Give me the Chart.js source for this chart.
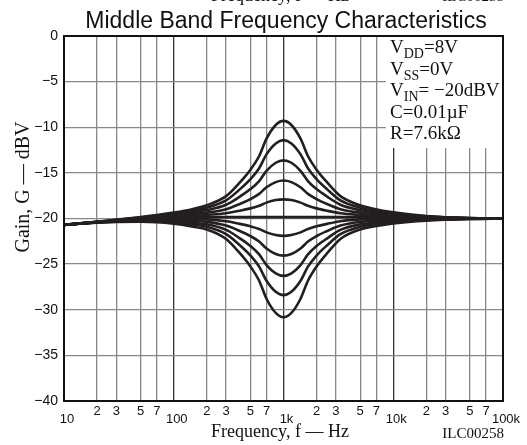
<!DOCTYPE html>
<html>
<head>
<meta charset="utf-8">
<script src="https://cdn.jsdelivr.net/npm/chart.js@4"></script>
<style>body{margin:0;background:#fff}</style>
</head>
<body>
<canvas id="chart" width="527" height="445"></canvas>
<script>
// frequencies (Hz) the curves were read at
const freqs = [10, 20, 50, 100, 150, 200, 300, 400, 500, 600, 700, 850, 1000, 1180, 1430, 1670, 2000, 2500, 3300, 5000, 6600, 10000, 20000, 50000, 100000];

// gain curves, dBV (boost settings, flat, cut settings)
const boost1 = [-20.7, -20.35, -19.85, -19.35, -18.95, -18.55, -17.55, -16.05, -14.65, -13.15, -11.25, -9.75, -9.3, -9.75, -11.25, -13.15, -14.65, -16.05, -17.55, -18.55, -18.93, -19.32, -19.72, -19.95, -20.0];
const boost2 = [-20.7, -20.36, -19.9, -19.47, -19.14, -18.81, -18.01, -16.81, -15.69, -14.49, -12.97, -11.77, -11.41, -11.77, -12.97, -14.49, -15.69, -16.81, -18.01, -18.81, -19.12, -19.44, -19.77, -19.96, -20.0];
const boost3 = [-20.7, -20.37, -19.95, -19.6, -19.34, -19.08, -18.49, -17.61, -16.78, -15.9, -14.78, -13.89, -13.63, -13.89, -14.78, -15.9, -16.78, -17.61, -18.49, -19.08, -19.32, -19.57, -19.82, -19.97, -20.0];
const boost4 = [-20.7, -20.38, -20.0, -19.72, -19.54, -19.36, -18.98, -18.41, -17.87, -17.3, -16.58, -16.01, -15.84, -16.01, -16.58, -17.3, -17.87, -18.41, -18.98, -19.36, -19.52, -19.69, -19.87, -19.98, -20.0];
const boost5 = [-20.7, -20.39, -20.05, -19.84, -19.72, -19.61, -19.42, -19.15, -18.89, -18.61, -18.26, -17.98, -17.9, -17.98, -18.26, -18.61, -18.89, -19.15, -19.42, -19.61, -19.7, -19.81, -19.92, -19.99, -20.0];
const flat   = [-20.7, -20.4, -20.1, -19.95, -19.9, -19.85, -19.85, -19.85, -19.85, -19.85, -19.85, -19.85, -19.85, -19.85, -19.85, -19.85, -19.85, -19.85, -19.85, -19.85, -19.88, -19.92, -19.97, -20.0, -20.0];
const cut1   = [-20.7, -20.41, -20.15, -20.07, -20.08, -20.1, -20.3, -20.59, -20.86, -21.15, -21.52, -21.81, -21.9, -21.81, -21.52, -21.15, -20.86, -20.59, -20.3, -20.1, -20.06, -20.04, -20.02, -20.01, -20.0];
const cut2   = [-20.7, -20.42, -20.2, -20.19, -20.28, -20.37, -20.77, -21.37, -21.93, -22.53, -23.29, -23.89, -24.07, -23.89, -23.29, -22.53, -21.93, -21.37, -20.77, -20.37, -20.26, -20.16, -20.07, -20.02, -20.0];
const cut3   = [-20.7, -20.43, -20.25, -20.32, -20.48, -20.64, -21.25, -22.17, -23.02, -23.94, -25.1, -26.01, -26.29, -26.01, -25.1, -23.94, -23.02, -22.17, -21.25, -20.64, -20.46, -20.29, -20.12, -20.03, -20.0];
const cut4   = [-20.7, -20.44, -20.3, -20.44, -20.67, -20.9, -21.71, -22.93, -24.06, -25.28, -26.82, -28.03, -28.4, -28.03, -26.82, -25.28, -24.06, -22.93, -21.71, -20.9, -20.65, -20.41, -20.17, -20.04, -20.0];
const cut5   = [-20.7, -20.45, -20.36, -20.57, -20.89, -21.2, -22.24, -23.8, -25.26, -26.82, -28.79, -30.35, -30.82, -30.35, -28.79, -26.82, -25.26, -23.8, -22.24, -21.2, -20.87, -20.54, -20.23, -20.05, -20.0];

const curves = [boost1, boost2, boost3, boost4, boost5, flat, cut1, cut2, cut3, cut4, cut5];

// axis ticks
const xTickValues = [10, 20, 30, 50, 70, 100, 200, 300, 500, 700, 1000, 2000, 3000, 5000, 7000, 10000, 20000, 30000, 50000, 70000, 100000];
const xTickLabels = ['10', '2', '3', '5', '7', '100', '2', '3', '5', '7', '1k', '2', '3', '5', '7', '10k', '2', '3', '5', '7', '100k'];
const decades = [10, 100, 1000, 10000, 100000];
const yTickValues = [0, -5, -10, -15, -20, -25, -30, -35, -40];

const sans = '"Liberation Sans", Arial, sans-serif';
const serif = '"Liberation Serif", "Times New Roman", serif';

// text with subscripts: parts = [[text, isSub], ...]
function drawSub(c, x, y, parts) {
  parts.forEach(p => {
    c.font = p[1] ? '14px ' + serif : '19px ' + serif;
    c.fillText(p[0], x, p[1] ? y + 5 : y);
    x += c.measureText(p[0]).width;
  });
}

const textPlugin = {
  id: 'texts',
  beforeDatasetsDraw(chart) {
    const c = chart.ctx, a = chart.chartArea;
    c.save();
    // conditions box covers the grid
    c.fillStyle = '#fff';
    c.fillRect(386, a.top, a.right - 386, 148 - a.top);
    c.fillStyle = '#111';
    c.textAlign = 'left';
    c.textBaseline = 'alphabetic';
    drawSub(c, 390, 53, [['V', false], ['DD', true], ['=8V', false]]);
    drawSub(c, 390, 75, [['V', false], ['SS', true], ['=0V', false]]);
    drawSub(c, 390, 96, [['V', false], ['IN', true], ['= \u221220dBV', false]]);
    drawSub(c, 390, 118, [['C=0.01\u00b5F', false]]);
    drawSub(c, 390, 139, [['R=7.6k\u03a9', false]]);
    c.restore();
  },
  afterDatasetsDraw(chart) {
    const c = chart.ctx, a = chart.chartArea;
    c.save();
    c.strokeStyle = '#111';
    c.lineWidth = 2;
    c.strokeRect(a.left, a.top, a.right - a.left, a.bottom - a.top);
    c.restore();
  },
  afterDraw(chart) {
    const c = chart.ctx, a = chart.chartArea;
    const xs = chart.scales.x, ys = chart.scales.y;
    c.save();
    c.fillStyle = '#111';

    // title
    c.font = '23px ' + sans;
    c.textAlign = 'center';
    c.textBaseline = 'alphabetic';
    c.fillText('Middle Band Frequency Characteristics', 286, 28);

    // remnant of the chart above, cut off at the top edge
    c.font = '18px ' + serif;
    c.fillText('Frequency, f \u2014 Hz', 280, 1);
    c.font = '15px ' + serif;
    c.textAlign = 'right';
    c.fillText('ILC00258', 504, 1);

    // y tick labels
    c.font = '14px ' + sans;
    c.textAlign = 'right';
    c.textBaseline = 'middle';
    yTickValues.forEach(v => {
      const t = v === 0 ? '0' : '\u2212' + Math.abs(v);
      c.fillText(t, a.left - 6, ys.getPixelForValue(v));
    });

    // x tick labels: digits up, decades a bit lower
    c.font = '13px ' + sans;
    c.textAlign = 'center';
    xTickValues.forEach((v, i) => {
      const px = xs.getPixelForValue(v);
      if (decades.includes(v)) {
        c.fillText(xTickLabels[i], px + 3, 419);
      } else {
        c.fillText(xTickLabels[i], px, 411);
      }
    });

    // axis titles
    c.font = '18px ' + serif;
    c.textBaseline = 'alphabetic';
    c.fillText('Frequency, f \u2014 Hz', 280, 437);
    c.font = '15px ' + serif;
    c.textAlign = 'right';
    c.fillText('ILC00258', 504, 438);

    c.translate(24, 187);
    c.rotate(-Math.PI / 2);
    c.font = '20px ' + serif;
    c.textAlign = 'center';
    c.textBaseline = 'middle';
    c.fillText('Gain, G \u2014 dBV', 0, 0);
    c.restore();
  }
};

const datasets = curves.map(vals => ({
  data: freqs.map((f, i) => ({ x: f, y: vals[i] })),
  borderColor: '#231f20',
  borderWidth: 2.6,
  pointRadius: 0,
  fill: false,
  cubicInterpolationMode: 'monotone'
}));

const ctx = document.getElementById('chart').getContext('2d');
const chart = new Chart(ctx, {
  type: 'line',
  data: { datasets: datasets },
  options: {
    responsive: false,
    animation: false,
    devicePixelRatio: 1,
    layout: { padding: { left: 64, right: 24, top: 36, bottom: 44 } },
    plugins: { legend: { display: false }, tooltip: { enabled: false }, title: { display: false } },
    scales: {
      x: {
        type: 'logarithmic',
        min: 10,
        max: 100000,
        afterBuildTicks: s => { s.ticks = xTickValues.map(v => ({ value: v })); },
        afterFit: s => { s.height = 0; },
        ticks: { display: false },
        border: { display: false },
        grid: {
          drawTicks: false,
          lineWidth: 1.3,
          color: c => (c.tick && decades.includes(c.tick.value)) ? '#333' : '#888'
        }
      },
      y: {
        min: -40,
        max: 0,
        afterBuildTicks: s => { s.ticks = yTickValues.map(v => ({ value: v })); },
        afterFit: s => { s.width = 0; },
        ticks: { display: false },
        border: { display: false },
        grid: { drawTicks: false, lineWidth: 1.3, color: '#888' }
      }
    }
  },
  plugins: [textPlugin]
});
</script>
</body>
</html>
